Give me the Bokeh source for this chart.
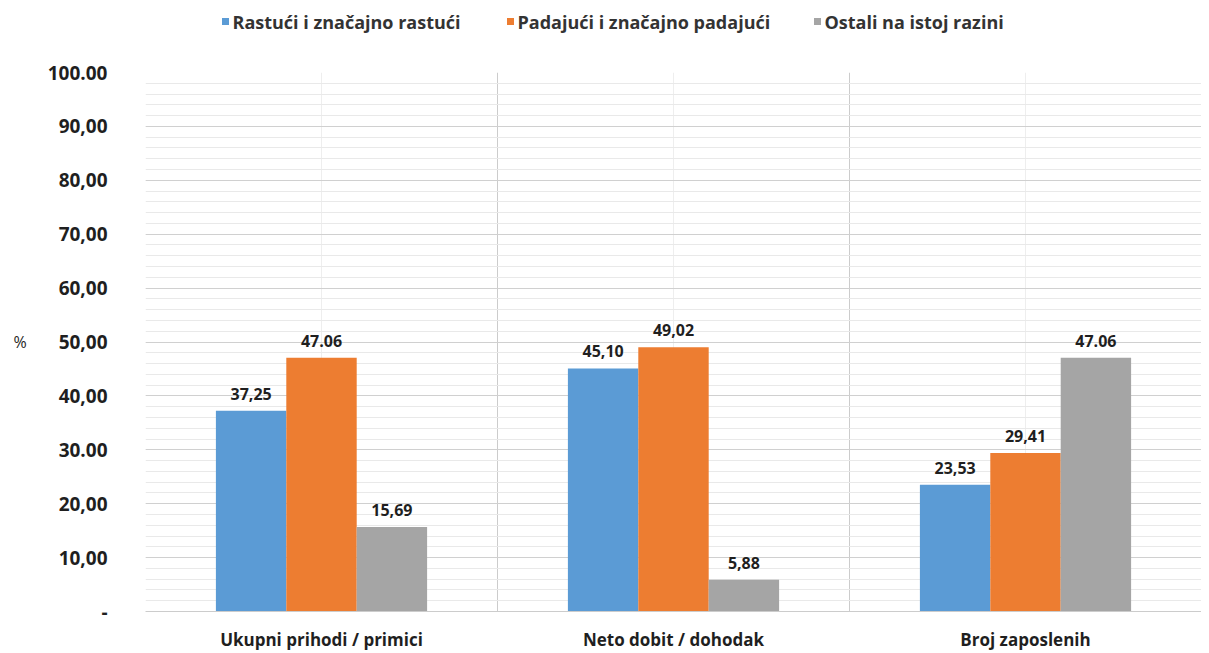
from bokeh.plotting import figure
from bokeh.layouts import column
from bokeh.models import ColumnDataSource, FixedTicker, LabelSet
from bokeh.core.properties import value
from bokeh.transform import dodge
from bokeh.embed import file_html
from bokeh.resources import INLINE

categories = ["Ukupni prihodi / primici", "Neto dobit / dohodak", "Broj zaposlenih"]
series_names = ["Rastući i značajno rastući", "Padajući i značajno padajući", "Ostali na istoj razini"]
rastuci = [37.25, 45.10, 23.53]
padajuci = [47.06, 49.02, 29.41]
ostali = [15.69, 5.88, 47.06]
rastuci_lbl = ["37,25", "45,10", "23,53"]
padajuci_lbl = ["47.06", "49,02", "29,41"]
ostali_lbl = ["15,69", "5,88", "47.06"]
y_ticks = [0, 10, 20, 30, 40, 50, 60, 70, 80, 90, 100]
y_tick_labels = ["-", "10,00", "20,00", "30.00", "40,00", "50,00", "60,00", "70,00", "80,00", "90,00", "100.00"]

colors = ["#5B9BD5", "#ED7D31", "#A5A5A5"]
FONT = "Open Sans"
TXT = "#1f1f1f"

# ---------------- legend strip ----------------
LW, LH = 1201, 50
leg = figure(width=LW, height=LH, x_range=(145, LW), y_range=(0, LH),
             output_backend="svg", toolbar_location=None,
             min_border=0, min_border_left=0, min_border_right=0,
             min_border_top=0, min_border_bottom=0)
leg.axis.visible = False
leg.grid.visible = False
leg.outline_line_color = None
leg_x = [225, 510, 817]
leg_src = ColumnDataSource(dict(x=leg_x, tx=[x + 7 for x in leg_x], y=[LH - 21] * 3,
                                name=series_names, color=colors))
leg.scatter(x="x", y="y", source=leg_src, marker="square", size=7,
            fill_color="color", line_color=None)
leg.text(x="tx", y="y", text="name", source=leg_src, text_baseline="middle",
         text_align="left", text_font=value(FONT), text_font_size=value("18px"),
         text_font_style="bold", text_color="#333333")

# ---------------- main chart ----------------
xs = [i + 0.5 for i in range(len(categories))]
src = ColumnDataSource(dict(x=xs, r=rastuci, p=padajuci, o=ostali,
                            rl=rastuci_lbl, pl=padajuci_lbl, ol=ostali_lbl))

p = figure(width=1201, height=603, x_range=(0, 3), y_range=(0, 100),
           output_backend="svg", toolbar_location=None,
           min_border_left=145, min_border_right=0, min_border_top=22, min_border_bottom=33)
p.outline_line_color = None

offs = [-0.2, 0.0, 0.2]
fields = ["r", "p", "o"]
lbls = ["rl", "pl", "ol"]
for off, f, lf, c in zip(offs, fields, lbls, colors):
    p.vbar(x=dodge("x", off, range=p.x_range), top=f, width=0.2, source=src,
           fill_color=c, line_color=None)
    ls = LabelSet(x=dodge("x", off, range=p.x_range), y=f, text=lf, source=src,
                  text_align="center", text_baseline="bottom", y_offset=11,
                  text_font=value(FONT), text_font_size=value("16px"), text_font_style="bold",
                  text_color=TXT)
    p.add_layout(ls)

p.xaxis.ticker = FixedTicker(ticks=xs, minor_ticks=[0, 1, 2, 3])
p.xaxis.major_label_overrides = {x: c for x, c in zip(xs, categories)}
p.xaxis.major_tick_line_color = None
p.xaxis.minor_tick_line_color = None
p.xaxis.axis_line_color = "#cccccc"
p.xaxis.major_label_standoff = 10
p.xaxis.major_label_text_font = FONT
p.xaxis.major_label_text_font_size = "17px"
p.xaxis.major_label_text_font_style = "bold"
p.xaxis.major_label_text_color = TXT

p.yaxis.ticker = FixedTicker(ticks=y_ticks, minor_ticks=list(range(0, 101, 2)))
p.yaxis.major_label_overrides = {t: l for t, l in zip(y_ticks, y_tick_labels)}
p.yaxis.major_tick_line_color = None
p.yaxis.minor_tick_line_color = None
p.yaxis.axis_line_color = None
p.yaxis.major_label_standoff = 32
p.yaxis.major_label_text_font = FONT
p.yaxis.major_label_text_font_size = "19px"
p.yaxis.major_label_text_font_style = "bold"
p.yaxis.major_label_text_color = TXT
p.yaxis.axis_label = "%"
p.yaxis.axis_label_orientation = "horizontal"
p.yaxis.axis_label_standoff = 18
p.yaxis.axis_label_text_font = FONT
p.yaxis.axis_label_text_font_size = "16px"
p.yaxis.axis_label_text_font_style = "normal"
p.yaxis.axis_label_text_color = TXT

p.ygrid.grid_line_color = "#d0d0d0"
p.ygrid.minor_grid_line_color = "#e9e9e9"
p.xgrid.grid_line_color = "#eeeeee"
p.xgrid.minor_grid_line_color = "#cccccc"

layout = column(leg, p, spacing=0)
open("out.html", "w").write(file_html(layout, INLINE))
